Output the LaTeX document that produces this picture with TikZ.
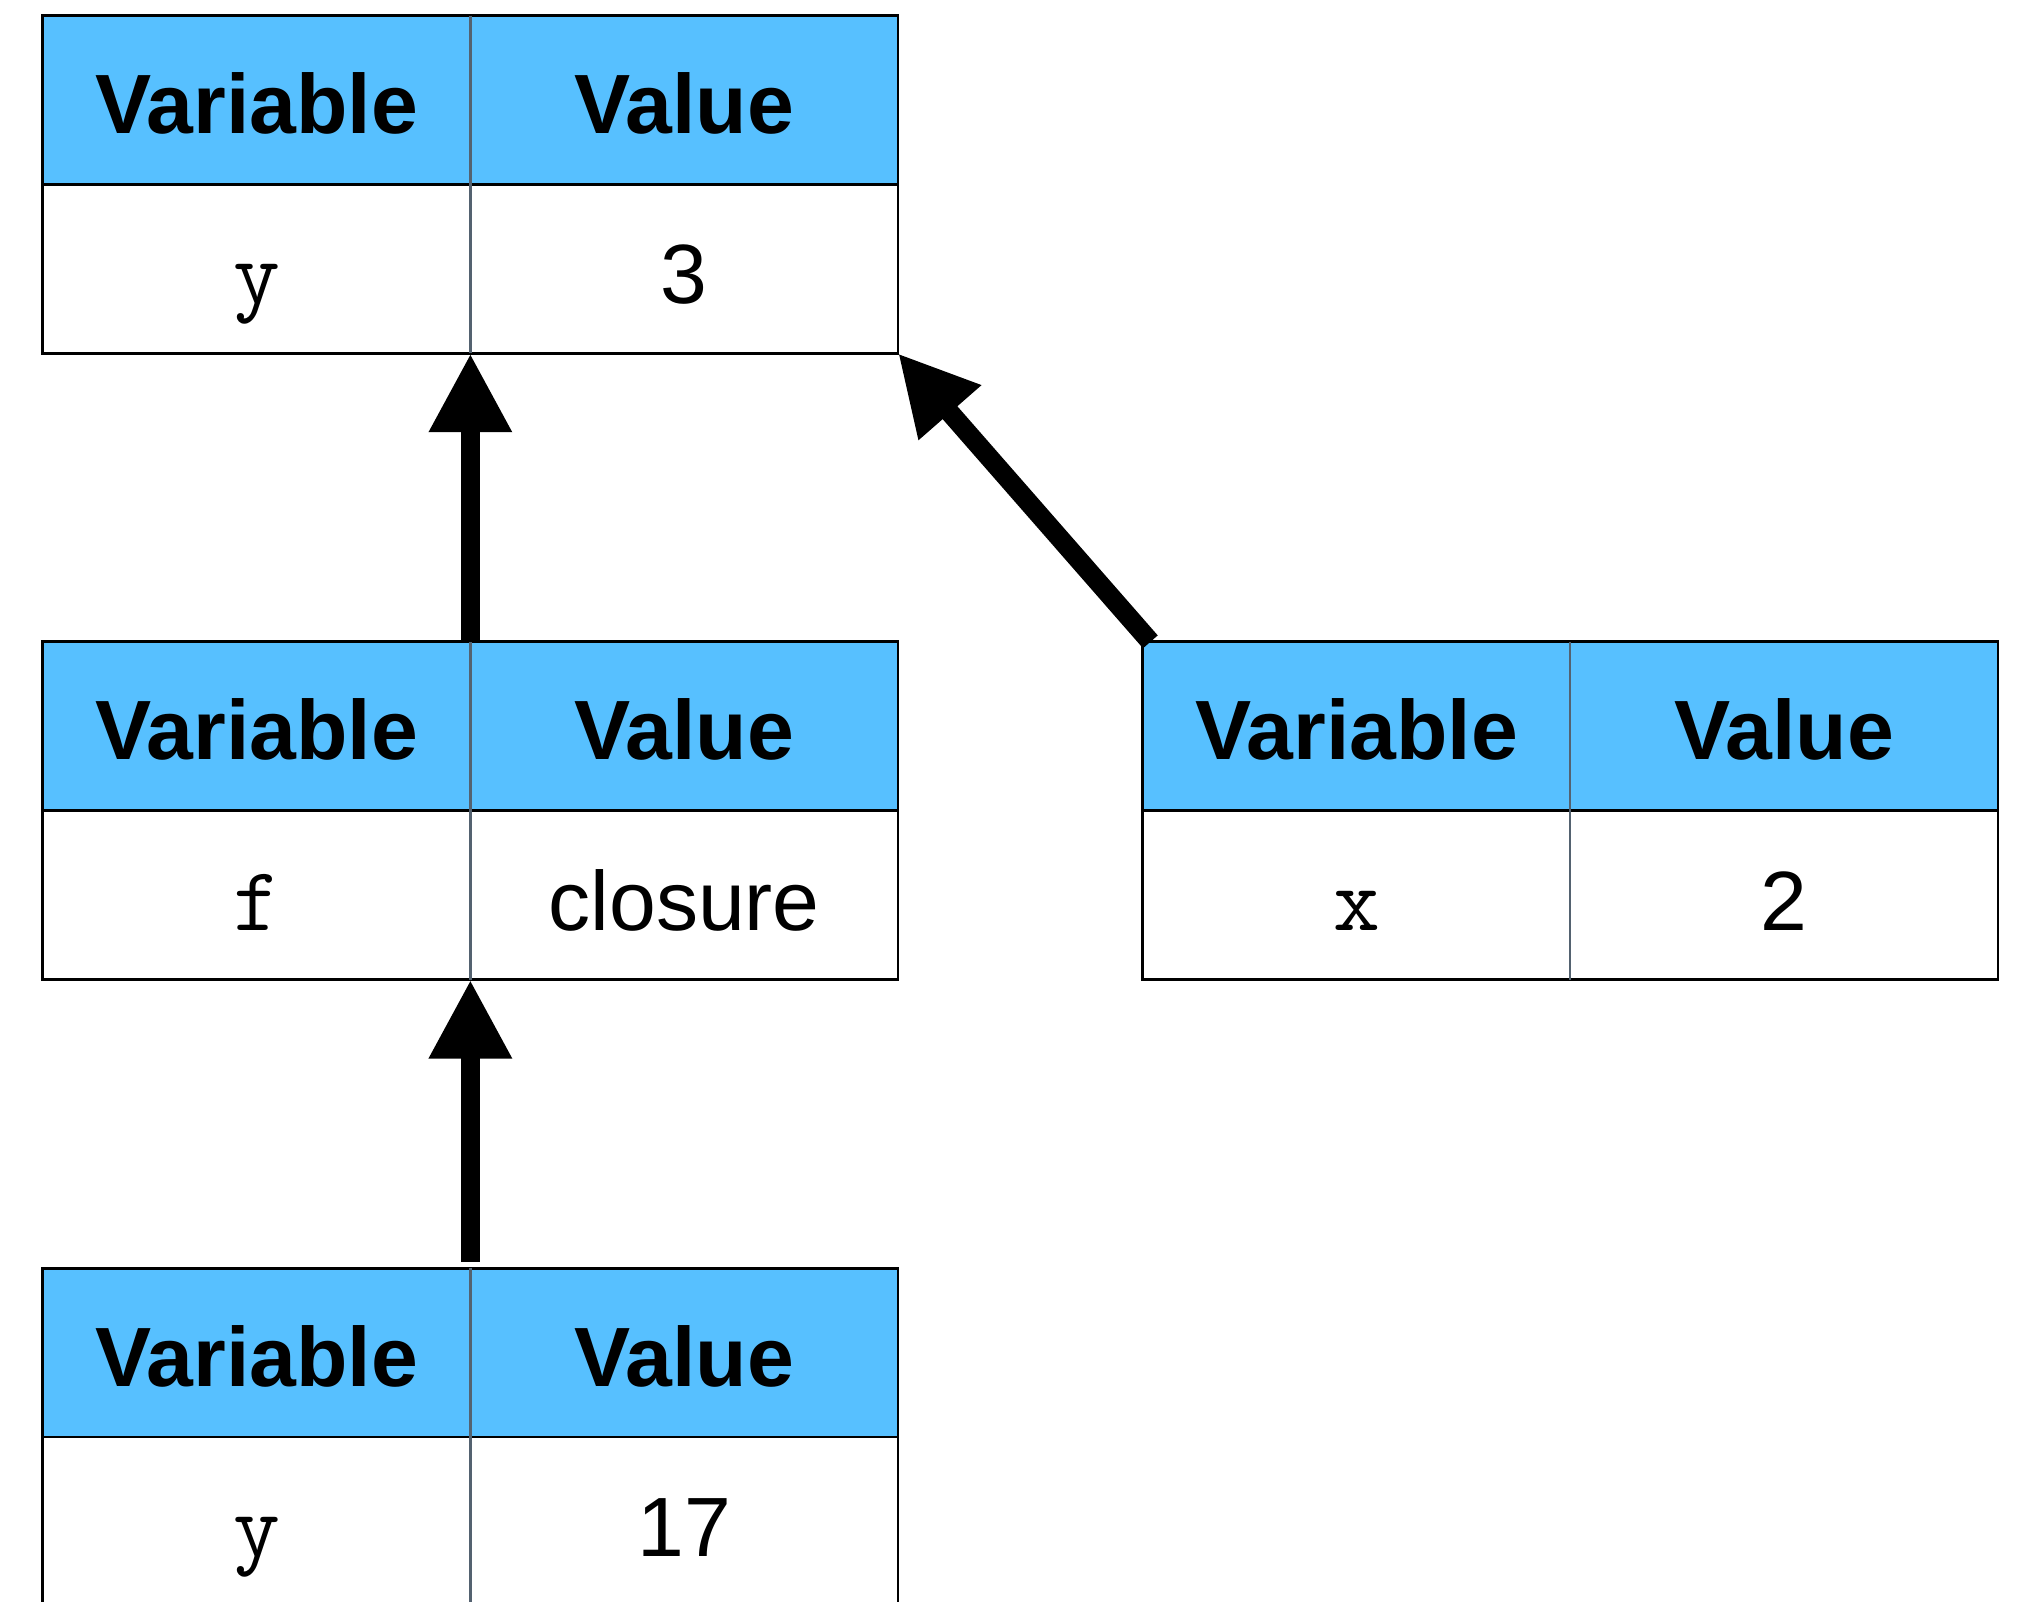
\documentclass[tikz,border=0pt]{standalone}
\usepackage{fontspec}
\setmainfont{Liberation Sans}
\usepackage{tikz}
\usetikzlibrary{arrows.meta,positioning}
\definecolor{headblue}{RGB}{87,192,255}
\definecolor{splitgray}{RGB}{84,98,112}

\begin{document}
\begin{tikzpicture}[>={Triangle[width=0.60cm,length=0.61cm]},node distance=0cm,
	head node/.style={fill=headblue, minimum width=3.305cm, minimum height=1.305cm, inner sep=0pt, outer sep=0pt, text height=0.52cm, text depth=0pt, font=\fontsize{18.5}{22}\selectfont\bfseries},
	body node/.style={fill=white, minimum width=3.305cm, minimum height=1.305cm, inner sep=0pt, outer sep=0pt, text height=0.54cm, text depth=0pt, font=\fontsize{18.5}{22}\selectfont},
	name node/.style={body node, font=\fontsize{20}{22}\selectfont\ttfamily},
	frame/.style={draw=black, line width=0.6pt},
	split/.style={draw=splitgray, line width=0.5pt}]
				\useasboundingbox (0,0) rectangle (15.68,-12.38);
				
				\node[head node, anchor=north west] (top1) at (0.33,-0.12) {Variable};
				\node[head node] (top2) [right=of top1] {Value};
				\node[name node] (top3) [below=of top1] {y};
				\node[body node] (top4) [below=of top2] {3};
				
				\node[head node] (mid1) [below=of top3, yshift=-2.23cm] {Variable};
				\node[head node] (mid2) [right=of mid1] {Value};
				\node[name node] (mid3) [below=of mid1] {f};
				\node[body node] (mid4) [below=of mid2] {closure};
				
				\node[head node] (right1) [right=of mid2, xshift=1.89cm] {Variable};
				\node[head node] (right2) [right=of right1] {Value};
				\node[name node] (right3) [below=of right1] {x};
				\node[body node] (right4) [below=of right2] {2};
				
				\node[head node] (bot1) [below=of mid3, yshift=-2.23cm] {Variable};
				\node[head node] (bot2) [right=of bot1] {Value};
				\node[name node] (bot3) [below=of bot1] {y};
				\node[body node] (bot4) [below=of bot2] {17};
				
				% table lines
				\draw[frame] (top1.north west) rectangle (top4.south east);
				\draw[frame] (top1.south west) -- (top2.south east);
				\draw[split] (top1.north east) -- (top3.south east);
				\draw[frame] (mid1.north west) rectangle (mid4.south east);
				\draw[frame] (mid1.south west) -- (mid2.south east);
				\draw[split] (mid1.north east) -- (mid3.south east);
				\draw[frame] (right1.north west) rectangle (right4.south east);
				\draw[frame] (right1.south west) -- (right2.south east);
				\draw[split] (right1.north east) -- (right3.south east);
				\draw[frame] (bot1.north west) rectangle (bot4.south east);
				\draw[frame] (bot1.south west) -- (bot2.south east);
				\draw[split] (bot1.north east) -- (bot3.south east);
				
				\path[->, line width=4.3pt]
				(mid1.north east) edge (top3.south east)
				(bot1.north east) edge [shorten <=0.05cm] (mid3.south east)
				([xshift=0.06cm]right1.north west) edge (top4.south east);
				
\end{tikzpicture}
\end{document}
